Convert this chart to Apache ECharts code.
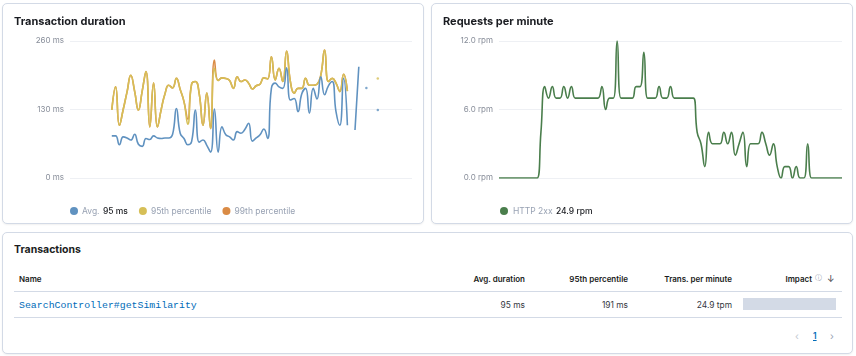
<!DOCTYPE html>
<html><head><meta charset="utf-8">
<script src="https://cdn.jsdelivr.net/npm/echarts@6/dist/echarts.min.js"></script>
<style>
body{margin:0;width:856px;height:356px;background:#fff;font-family:Inter,"Noto Sans",sans-serif;position:relative;overflow:hidden;color:#343741}
.card{position:absolute;background:#fff;border:1px solid #d3dae6;border-radius:5px;box-shadow:0 1px 2px rgba(0,0,0,0.06);box-sizing:border-box}
.chart{position:absolute}
.t{position:absolute;white-space:nowrap;line-height:1}
.hd{font-size:8px;font-weight:600;color:#1a1c21}
.val{font-size:8.4px;color:#343741}
.rule{position:absolute;left:14px;width:828px;height:1px;background:#d3dae6}
</style></head>
<body>
<div class="card" style="left:2px;top:3px;width:422px;height:221px"></div>
<div class="card" style="left:431px;top:3px;width:422px;height:221px"></div>
<div class="card" style="left:2px;top:232px;width:851px;height:122px"></div>
<div id="c1" class="chart" style="left:2px;top:3px;width:422px;height:221px"></div>
<div id="c2" class="chart" style="left:431px;top:3px;width:422px;height:221px"></div>

<div class="t" style="left:14px;top:245px;font-size:10.5px;font-weight:700;color:#1a1c21">Transactions</div>
<div class="t hd" style="left:19px;top:275px">Name</div>
<div class="t hd" style="right:331px;top:275px">Avg. duration</div>
<div class="t hd" style="right:228px;top:275px">95th percentile</div>
<div class="t hd" style="right:124px;top:275px">Trans. per minute</div>
<div class="t hd" style="right:44px;top:275px">Impact</div>
<div class="t" style="left:815px;top:274px;font-size:7px;color:#98a2b3">&#9432;</div>
<div class="t" style="left:827px;top:274px;font-size:9px;color:#343741">&#8595;</div>
<div class="rule" style="top:291px"></div>
<div class="t" style="left:19px;top:301px;font-family:'Liberation Mono','DejaVu Sans Mono',monospace;font-size:9.9px;color:#006bb8">SearchController#getSimilarity</div>
<div class="t val" style="right:331px;top:301px">95 ms</div>
<div class="t val" style="right:228px;top:301px">191 ms</div>
<div class="t val" style="right:124px;top:301px">24.9 tpm</div>
<div style="position:absolute;left:743px;top:298px;width:93px;height:12px;background:#d3dae6"></div>
<div class="rule" style="top:317px"></div>
<div class="t" style="left:795px;top:331px;font-size:10px;color:#c2c7d0">&#8249;</div>
<div class="t" style="left:813px;top:332px;font-size:8.5px;font-weight:600;color:#006bb8;text-decoration:underline">1</div>
<div class="t" style="left:830px;top:331px;font-size:10px;color:#98a2b3">&#8250;</div>

<script>
// time axis: seconds after 04:00:00; one bucket every 10 s starting 04:13:07
const startSec = 787;
const stepSec = 10;
const xTickLabels = ['04:15', '04:20', '04:25'];

const avgMs = [null,null,null,null,null,null,null,null,null,null,null,
  80,80,63,78,76,72,83,64,60,75,73,80,76,75,76,76,83,132,85,75,63,69,129,68,72,62,49,131,49,97,
  82,78,72,88,85,92,104,70,76,82,93,75,170,180,173,170,209,148,151,126,160,170,123,170,150,192,158,175,183,126,100,189,100,
  null,91,211,null,171,null,null,129,
  null,null,null,null,null,null,null,null,null];
const p95Ms = [null,null,null,null,null,null,null,null,null,null,null,
  129,173,100,130,163,195,165,129,165,202,97,180,97,130,160,176,171,189,168,145,102,178,183,160,100,161,94,208,185,190,
  189,185,170,192,183,186,180,169,175,178,190,188,230,186,208,183,241,183,161,170,170,189,176,176,178,195,243,183,189,180,164,197,165,
  null,null,null,null,null,null,null,189,
  null,null,null,null,null,null,null,null,null];
const p99Ms = [null,null,null,null,null,null,null,null,null,null,null,
  129,173,100,130,163,195,165,129,165,202,97,180,97,130,160,176,171,189,168,145,112,178,183,160,100,161,94,224,185,190,
  189,185,170,192,183,186,180,169,175,178,190,188,230,186,208,183,241,183,161,170,170,189,176,176,178,195,243,183,189,180,164,197,165,
  null,null,null,null,null,null,null,189,
  null,null,null,null,null,null,null,null,null];
const http2xxRpm = [0,0,0,0,0,0,0,0,0,0,0,
  4,
  8,7,8,7,7,8,7,8,
  7,7,7,7,7,7,7,
  8,6,7,7,12,7,7,7,7,8,8,11,7,7,7,8,7,7,8,
  7,7,7,7,7,7,
  4,3,1,4,3,3,3,4,3,4,2,3,4,1,3,3,3,4,3,2,3,1,
  0,1,1,0,1,0,0,3,
  0,0,0,0,0,0,0,0,0];

const durationTicks = [0, 130, 260];
const rpmTicks = [0, 6, 12];

const COLORS = {avg:'#6092C0', p95:'#D6BF57', p99:'#DA8B45', http:'#4A7E4C'};
const FONT = 'Inter';

function xOf(i){ return startSec + i*stepSec; }
function toPairs(arr){ return arr.map((v,i)=>[xOf(i), v]); }
function isolated(arr){
  const out=[];
  arr.forEach((v,i)=>{ if(v!=null && arr[i-1]==null && arr[i+1]==null) out.push([xOf(i), v]); });
  return out;
}
function tickSec(lbl){ const p=lbl.split(':'); return (+p[0])*3600 + (+p[1])*60; }
const xMin = xOf(0), xMax = xOf(http2xxRpm.length-1);

function xAxis(){
  return {type:'value', min:xMin, max:xMax,
    axisLine:{show:false}, axisTick:{show:false}, splitLine:{show:false},
    axisLabel:{customValues: xTickLabels.map(tickSec), color:'#878d99', fontSize:8, fontFamily:FONT, margin:5,
      formatter:(v)=>{ const m=Math.round(v/60); return '04:'+String(m).padStart(2,'0'); }}};
}
function yAxis(ticks, fmt){
  return {type:'value', min:ticks[0], max:ticks[ticks.length-1], interval:ticks[1]-ticks[0],
    axisLine:{show:false}, axisTick:{show:false},
    splitLine:{lineStyle:{color:'#eef0f4', width:1}},
    axisLabel:{color:'#878d99', fontSize:8, fontFamily:FONT, margin:6, formatter:fmt}};
}
function lineSeries(name, arr, color){
  return {name, type:'line', data:toPairs(arr), smooth:0.5, showSymbol:false, connectNulls:false,
    lineStyle:{width:1.6, color}, itemStyle:{color}, emphasis:{disabled:true}, animation:false};
}
function dotSeries(arr, color){
  return {type:'scatter', data:isolated(arr), symbolSize:2.5, itemStyle:{color}, silent:true, animation:false};
}
const legendRich = {g:{color:'#98a2b3', fontSize:8.5, fontFamily:FONT}, b:{color:'#1a1c21', fontSize:8.5, fontFamily:FONT, fontWeight:500}};

const c1 = echarts.init(document.getElementById('c1'), null, {renderer:'canvas'});
c1.setOption({
  animation:false,
  title:{text:'Transaction duration', left:12, top:13, padding:0, textStyle:{fontSize:11, fontWeight:700, color:'#1a1c21', fontFamily:FONT}},
  grid:{left:68, top:38, width:342, height:137},
  xAxis:xAxis(),
  yAxis:yAxis(durationTicks, v=>v+' ms'),
  legend:{left:68, top:202, padding:0, itemWidth:8, itemHeight:8, itemGap:11, icon:'circle', selectedMode:false,
    data:['Avg.','95th percentile','99th percentile'],
    formatter:(n)=> n==='Avg.' ? '{g|Avg.} {b|95 ms}' : '{g|'+n+'}',
    textStyle:{rich:legendRich, padding:[0,0,0,-1]}},
  series:[
    lineSeries('99th percentile', p99Ms, COLORS.p99),
    lineSeries('95th percentile', p95Ms, COLORS.p95),
    lineSeries('Avg.', avgMs, COLORS.avg),
    dotSeries(p95Ms, COLORS.p95),
    dotSeries(avgMs, COLORS.avg)
  ]
});

const c2 = echarts.init(document.getElementById('c2'), null, {renderer:'canvas'});
c2.setOption({
  animation:false,
  title:{text:'Requests per minute', left:12, top:13, padding:0, textStyle:{fontSize:11, fontWeight:700, color:'#1a1c21', fontFamily:FONT}},
  grid:{left:68, top:38, width:343, height:137},
  xAxis:xAxis(),
  yAxis:yAxis(rpmTicks, v=>v.toFixed(1)+' rpm'),
  legend:{left:69, top:202, padding:0, itemWidth:8, itemHeight:8, icon:'circle', selectedMode:false,
    data:['HTTP 2xx'],
    formatter:()=> '{g|HTTP 2xx} {b|24.9 rpm}',
    textStyle:{rich:legendRich}},
  series:[ lineSeries('HTTP 2xx', http2xxRpm, COLORS.http) ]
});
</script>
</body></html>
